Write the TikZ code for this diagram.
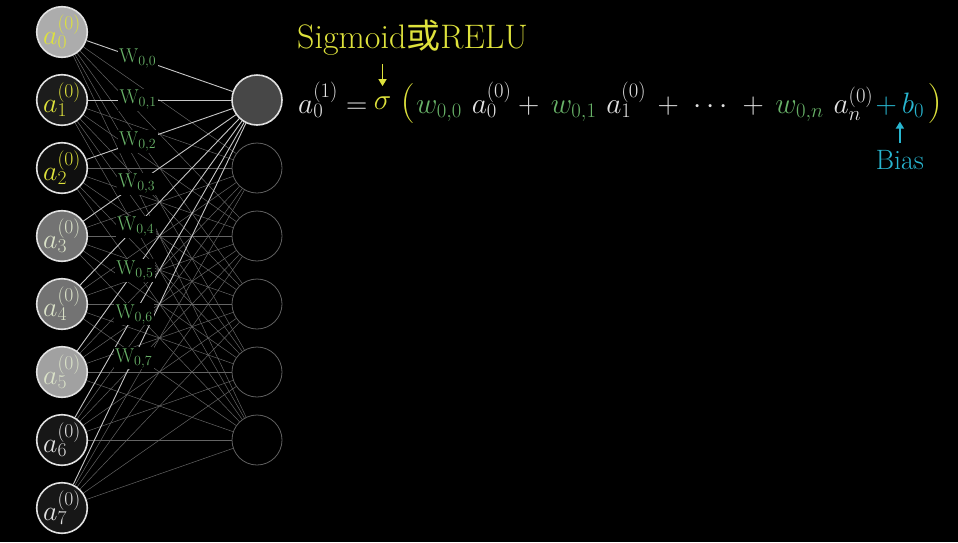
\RequirePackage{fix-cm}
\documentclass[tikz,border=0pt]{standalone}
\usepackage{fontspec}
\newfontfamily\cjkfont{Noto Sans CJK SC}
\usetikzlibrary{arrows.meta, positioning, backgrounds}

\definecolor{sigyellow}{RGB}{222,226,60}
\definecolor{wgreen}{RGB}{104,178,104}
\definecolor{biascyan}{RGB}{40,182,208}
\definecolor{linkgray}{RGB}{100,100,100}
\definecolor{palelabel}{RGB}{218,226,200}
\definecolor{eqwhite}{RGB}{225,225,225}

\begin{document}
\begin{tikzpicture}[
    x=1pt, y=-1pt,
    % Style definitions
    neuron/.style={circle, minimum size=50pt, inner sep=0pt, draw=eqwhite, line width=1.6pt,
                   font=\fontsize{28}{32}\selectfont},
    hidden/.style={circle, minimum size=50pt, inner sep=0pt, draw=gray!75!black, line width=0.8pt, fill=black},
    wlabel/.style={fill=black, text=wgreen, inner sep=1.5pt, font=\fontsize{20}{24}\selectfont},
    eqpart/.style={inner sep=0pt, text=eqwhite, font=\fontsize{29.5}{35}\selectfont},
    bigparen/.style={inner sep=0pt, text=sigyellow, font=\fontsize{40}{46}\selectfont},
    link/.style={draw=linkgray, line width=0.5pt},
    tolead/.style={draw=white!78!black, line width=0.9pt},
    arrow/.style={-{Triangle[length=7pt, width=8pt]}, line width=1.8pt},
]
\useasboundingbox (0,0) rectangle (958,542);

% Input layer
\begin{scope}[on grid, node distance=68pt]
\node[neuron, fill=gray!65, text=sigyellow] (in0) at (62,32) {$a_0^{(0)}$};
\node[neuron, fill=black!89, text=sigyellow, below=of in0] (in1) {$a_1^{(0)}$};
\node[neuron, fill=black!94, text=sigyellow, below=of in1] (in2) {$a_2^{(0)}$};
\node[neuron, fill=black!55, text=palelabel, below=of in2] (in3) {$a_3^{(0)}$};
\node[neuron, fill=black!55, text=palelabel, below=of in3] (in4) {$a_4^{(0)}$};
\node[neuron, fill=black!37, text=palelabel, below=of in4] (in5) {$a_5^{(0)}$};
\node[neuron, fill=black!91, text=eqwhite, below=of in5] (in6) {$a_6^{(0)}$};
\node[neuron, fill=black!91, text=eqwhite, below=of in6] (in7) {$a_7^{(0)}$};

% Next layer
\node[neuron, fill=black!72, right=195pt of in1] (h0) {};
\node[hidden, below=of h0] (h1) {};
\node[hidden, below=of h1] (h2) {};
\node[hidden, below=of h2] (h3) {};
\node[hidden, below=of h3] (h4) {};
\node[hidden, below=of h4] (h5) {};
\end{scope}

% Connections
\begin{scope}[on background layer]
\fill[black] (0,0) rectangle (958,542);
\foreach \i in {0,...,7} {
  \foreach \j in {1,...,5} \draw[link] (in\i) -- (h\j);
  \draw[tolead] (in\i) -- (h0);
}
\end{scope}

% Weights
\foreach \i in {0,...,7}
  \path (in\i) -- node[wlabel, pos=0.35] {$\mathrm{W}_{0,\i}$} (h0);

% Equation
\node[eqpart, anchor=base west] (lhs) at (298,113) {$a_0^{(1)} =$};
\node[eqpart, text=sigyellow, base right=6pt of lhs, yshift=4pt] (sig) {$\sigma$};
\node[bigparen, base right=9pt of sig, yshift=-4pt] (lpar) {$($};
\node[eqpart, base right=1pt of lpar] (sum) {$\color{wgreen}w_{0,0}\mskip6mu\color{eqwhite}a_0^{(0)}+\,\color{wgreen}w_{0,1}\mskip6mu\color{eqwhite}a_1^{(0)}\,+\;\cdots\;+\,\color{wgreen}w_{0,n}\mskip6mu\color{eqwhite}a_n^{(0)}$};
\node[eqpart, text=biascyan, base right=2pt of sum] (bias) {$+\,b_0$};
\node[bigparen, base right=3pt of bias] (rpar) {$)$};

% Annotations
\node[text=sigyellow, anchor=base west, inner sep=0pt, font=\fontsize{34}{38}\selectfont] (sigtitle) at (297,48) {Sigmoid{\cjkfont 或}RELU};
\draw[arrow, sigyellow, line width=1.5pt] (sigtitle.south -| sig) ++(0,-9pt) coordinate (sigstart) -- ([yshift=10pt]sig.north);
\node[text=biascyan, inner sep=0pt, font=\fontsize{28}{32}\selectfont, below=33pt of bias] (biaslabel) {Bias};
\draw[arrow, biascyan, shorten <=8pt] (biaslabel.north) -- ([yshift=-4pt]bias.south);

\end{tikzpicture}
\end{document}
